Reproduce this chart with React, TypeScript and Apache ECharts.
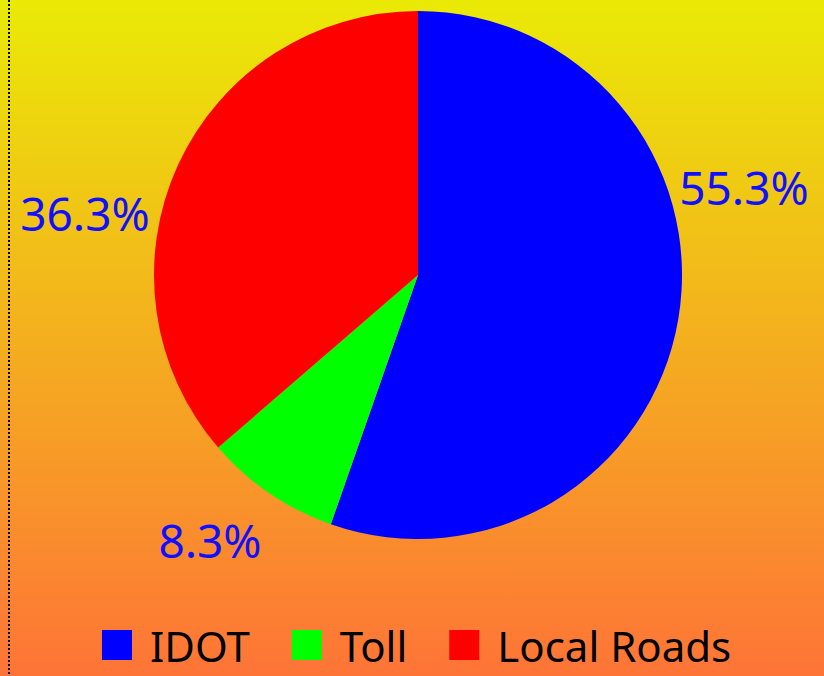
import React, { useEffect, useRef } from "react";
import * as echarts from "echarts";

const categories = ["IDOT", "Toll", "Local Roads"];
const values = [55.3, 8.3, 36.3];
const colors = ["#0000FF", "#00FF00", "#FF0000"];

// label anchor points (layout, pixels)
const labelAnchors = [
  [744, 187],
  [210, 540],
  [85, 213],
];

export default function App() {
  const ref = useRef<HTMLDivElement>(null);
  useEffect(() => {
    if (!ref.current) return;
    const chart = echarts.init(ref.current, undefined, { renderer: "svg" });
    chart.setOption({
      animation: false,
      backgroundColor: new echarts.graphic.LinearGradient(0, 0, 0, 1, [
        { offset: 0, color: "#EAEA06" },
        { offset: 1, color: "#FE7437" },
      ]),
      graphic: [
        {
          type: "line",
          shape: { x1: 9, y1: 0, x2: 9, y2: 676 },
          style: { stroke: "#000", lineWidth: 2, lineDash: [2, 2] },
        },
      ],
      legend: {
        top: 624,
        left: 102,
        padding: 0,
        icon: "rect",
        itemWidth: 30,
        itemHeight: 30,
        itemGap: 42,
        data: categories,
        textStyle: {
          fontFamily: "Noto Sans",
          fontSize: 42,
          lineHeight: 42,
          color: "#000",
          padding: [0, 0, 0, 13],
        },
      },
      series: [
        {
          type: "pie",
          center: [418, 275],
          radius: 264,
          startAngle: 90,
          clockwise: true,
          data: categories.map((name, i) => ({
            name,
            value: values[i],
            itemStyle: { color: colors[i] },
          })),
          label: {
            show: true,
            position: "outside",
            formatter: (p: any) => p.value.toFixed(1) + "%",
            fontFamily: "Noto Sans",
            fontSize: 46,
            color: "#1010FF",
            overflow: "none",
          },
          labelLine: { show: false },
          labelLayout: (p: any) => ({
            x: labelAnchors[p.dataIndex][0],
            y: labelAnchors[p.dataIndex][1],
            align: "center",
            verticalAlign: "middle",
          }),
        },
      ],
    });
    return () => chart.dispose();
  }, []);
  return (
    <div
      ref={ref}
      style={{ position: "fixed", left: 0, top: 0, width: 824, height: 676 }}
    />
  );
}
